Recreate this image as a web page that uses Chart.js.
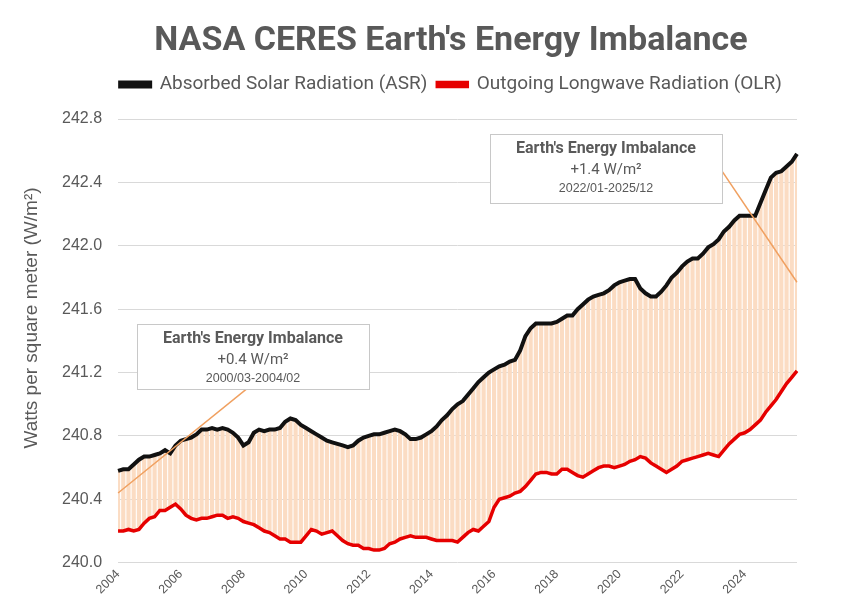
<!DOCTYPE html>
<html>
<head>
<meta charset="utf-8">
<title>NASA CERES Earth's Energy Imbalance</title>
<script src="https://cdn.jsdelivr.net/npm/chart.js@4.4.1/dist/chart.umd.min.js"></script>
<style>
  body { margin: 0; background: #fff; }
  #chart { display: block; }
</style>
</head>
<body>
<canvas id="chart" width="850" height="612"></canvas>
<script>
// values, one every 2 months from Jan 2004
const startYear = 2004;
const stepMonths = 2;

const asr = [
  240.58, 240.59, 240.59, 240.62, 240.65, 240.67, 240.67, 240.68, 240.69, 240.71,
  240.69, 240.74, 240.77, 240.78, 240.79, 240.81, 240.84, 240.84, 240.85, 240.84,
  240.85, 240.84, 240.82, 240.79, 240.74, 240.76, 240.82, 240.84, 240.83, 240.84,
  240.84, 240.85, 240.89, 240.91, 240.90, 240.87, 240.85, 240.83, 240.81, 240.79,
  240.77, 240.76, 240.75, 240.74, 240.73, 240.74, 240.77, 240.79, 240.80, 240.81,
  240.81, 240.82, 240.83, 240.84, 240.83, 240.81, 240.78, 240.78, 240.79, 240.81,
  240.83, 240.86, 240.90, 240.93, 240.97, 241.00, 241.02, 241.06, 241.10, 241.14,
  241.17, 241.20, 241.22, 241.24, 241.25, 241.27, 241.28, 241.34, 241.43, 241.48,
  241.51, 241.51, 241.51, 241.51, 241.52, 241.54, 241.56, 241.56, 241.60, 241.63,
  241.66, 241.68, 241.69, 241.70, 241.72, 241.75, 241.77, 241.78, 241.79, 241.79,
  241.73, 241.70, 241.68, 241.68, 241.71, 241.75, 241.80, 241.83, 241.87, 241.90,
  241.92, 241.92, 241.95, 241.99, 242.01, 242.04, 242.09, 242.12, 242.16, 242.19,
  242.19, 242.19, 242.19, 242.27, 242.35, 242.43, 242.46, 242.47, 242.50, 242.53, 242.58
];

const olr = [
  240.20, 240.20, 240.21, 240.20, 240.21, 240.25, 240.28, 240.29, 240.33, 240.33,
  240.35, 240.37, 240.34, 240.30, 240.28, 240.27, 240.28, 240.28, 240.29, 240.30,
  240.30, 240.28, 240.29, 240.28, 240.26, 240.25, 240.24, 240.22, 240.20, 240.19,
  240.17, 240.15, 240.15, 240.13, 240.13, 240.13, 240.17, 240.21, 240.20, 240.18,
  240.19, 240.20, 240.17, 240.14, 240.12, 240.11, 240.11, 240.09, 240.09, 240.08,
  240.08, 240.09, 240.12, 240.13, 240.15, 240.16, 240.17, 240.16, 240.16, 240.16,
  240.15, 240.14, 240.14, 240.14, 240.14, 240.13, 240.16, 240.19, 240.21, 240.20,
  240.23, 240.26, 240.35, 240.40, 240.41, 240.42, 240.44, 240.45, 240.48, 240.52,
  240.56, 240.57, 240.57, 240.56, 240.56, 240.59, 240.59, 240.57, 240.55, 240.54,
  240.56, 240.58, 240.60, 240.61, 240.61, 240.60, 240.61, 240.62, 240.64, 240.65,
  240.67, 240.66, 240.63, 240.61, 240.59, 240.57, 240.59, 240.61, 240.64, 240.65,
  240.66, 240.67, 240.68, 240.69, 240.68, 240.67, 240.71, 240.75, 240.78, 240.81,
  240.82, 240.84, 240.87, 240.90, 240.95, 240.99, 241.03, 241.08, 241.13, 241.17, 241.21
];

const tickYears = ['2004', '2006', '2008', '2010', '2012', '2014', '2016', '2018', '2020', '2022', '2024'];
const yTicks = [240.0, 240.4, 240.8, 241.2, 241.6, 242.0, 242.4, 242.8];

// orange trend lines: point index + value at each end
const trendEarlyIdx = [0, 27];
const trendEarlyVal = [240.44, 241.16];
const trendLateIdx = [113, 130];
const trendLateVal = [242.60, 241.77];

const noteTitles = ["Earth's Energy Imbalance", "Earth's Energy Imbalance"];
const noteValues = ['+0.4 W/m\u00B2', '+1.4 W/m\u00B2'];
const notePeriods = ['2000/03-2004/02', '2022/01-2025/12'];

const labels = asr.map((_, i) => {
  const m = i * stepMonths;
  return (startYear + Math.floor(m / 12)) + '/' + String(m % 12 + 1).padStart(2, '0');
});

function trendData(idx, vals) {
  return idx.map((k, n) => ({ x: labels[k], y: vals[n] }));
}

const grey = '#595959';
const titleCenterX = 451; // title + legend sit over the middle of the plot, not the canvas

// extra room under the legend, and shift it right like the original
const legendPlugin = {
  id: 'legendShift',
  beforeInit(chart) {
    const fit = chart.legend.fit;
    chart.legend.fit = function () {
      fit.bind(chart.legend)();
      this.height += 15;
    };
  },
  afterLayout(chart) {
    const lg = chart.legend;
    const dx = titleCenterX - (lg.left + lg.right) / 2;
    lg.left += dx;
    lg.right += dx;
  }
};

// title, boxes with the imbalance notes, rotated y title
const notesPlugin = {
  id: 'notes',
  afterDatasetsDraw(chart) {
    const ctx = chart.ctx;
    const boxes = [
      { x: 137, y: 324, w: 232, h: 65 },
      { x: 490, y: 134, w: 232, h: 69 }
    ];
    ctx.save();
    boxes.forEach((b, i) => {
      ctx.fillStyle = '#fff';
      ctx.fillRect(b.x, b.y, b.w, b.h);
      ctx.strokeStyle = '#c8c8c8';
      ctx.lineWidth = 1;
      ctx.strokeRect(b.x + 0.5, b.y + 0.5, b.w, b.h);
      const cx = b.x + b.w / 2;
      ctx.fillStyle = grey;
      ctx.textAlign = 'center';
      ctx.textBaseline = 'middle';
      ctx.font = 'bold 16px Roboto';
      ctx.fillText(noteTitles[i], cx, b.y + 15);
      ctx.font = '15px Roboto';
      ctx.fillText(noteValues[i], cx, b.y + 36);
      ctx.font = '12.5px "Liberation Sans"';
      ctx.fillText(notePeriods[i], cx, b.y + 55);
    });
    ctx.font = 'bold 34px Roboto';
    ctx.fillText("NASA CERES Earth's Energy Imbalance", titleCenterX, 41);
    ctx.translate(32, 318);
    ctx.rotate(-Math.PI / 2);
    ctx.font = '19px "Liberation Sans"';
    ctx.fillText('Watts per square meter (W/m\u00B2)', 0, 0);
    ctx.restore();
  }
};

new Chart(document.getElementById('chart'), {
  data: {
    labels: labels,
    datasets: [
      {
        type: 'line',
        label: 'Absorbed Solar Radiation (ASR)',
        data: asr,
        borderColor: '#111',
        backgroundColor: '#111',
        borderWidth: 4,
        pointRadius: 0,
        order: 1
      },
      {
        type: 'line',
        label: 'Outgoing Longwave Radiation (OLR)',
        data: olr,
        borderColor: '#e60000',
        backgroundColor: '#e60000',
        borderWidth: 3.5,
        pointRadius: 0,
        order: 2
      },
      {
        type: 'bar',
        label: 'imbalance',
        data: asr.map((v, i) => [olr[i], v]),
        backgroundColor: '#fbdcc3',
        barPercentage: 0.8,
        categoryPercentage: 1,
        order: 3
      },
      {
        type: 'line',
        label: 'trend early',
        data: trendData(trendEarlyIdx, trendEarlyVal),
        borderColor: '#f0a060',
        borderWidth: 1.5,
        pointRadius: 0,
        order: 0
      },
      {
        type: 'line',
        label: 'trend late',
        data: trendData(trendLateIdx, trendLateVal),
        borderColor: '#f0a060',
        borderWidth: 1.5,
        pointRadius: 0,
        order: 0
      }
    ]
  },
  options: {
    responsive: false,
    animation: false,
    devicePixelRatio: 1,
    layout: { padding: { left: 46, right: 53, top: 65, bottom: 11 } },
    plugins: {
      title: { display: false },
      legend: {
        labels: {
          filter: item => item.datasetIndex < 2,
          color: grey,
          boxWidth: 30,
          boxHeight: 4,
          font: { family: 'Roboto', size: 19 }
        }
      },
      tooltip: { enabled: false }
    },
    scales: {
      x: {
        offset: false,
        grid: { display: false, drawTicks: false },
        border: { display: false },
        ticks: {
          autoSkip: false,
          minRotation: 45,
          maxRotation: 45,
          padding: 4,
          color: grey,
          font: { family: '"Liberation Sans"', size: 12.5 },
          callback: (v, i) => (i % 12 === 0 ? tickYears[i / 12] : '')
        }
      },
      y: {
        min: yTicks[0],
        max: yTicks[yTicks.length - 1],
        afterBuildTicks: axis => { axis.ticks = yTicks.map(v => ({ value: v })); },
        grid: { color: '#d9d9d9', drawTicks: false },
        border: { display: false },
        ticks: {
          padding: 16,
          color: grey,
          font: { family: '"Liberation Sans"', size: 16 },
          callback: v => v.toFixed(1)
        }
      }
    }
  },
  plugins: [legendPlugin, notesPlugin]
});
</script>
</body>
</html>
